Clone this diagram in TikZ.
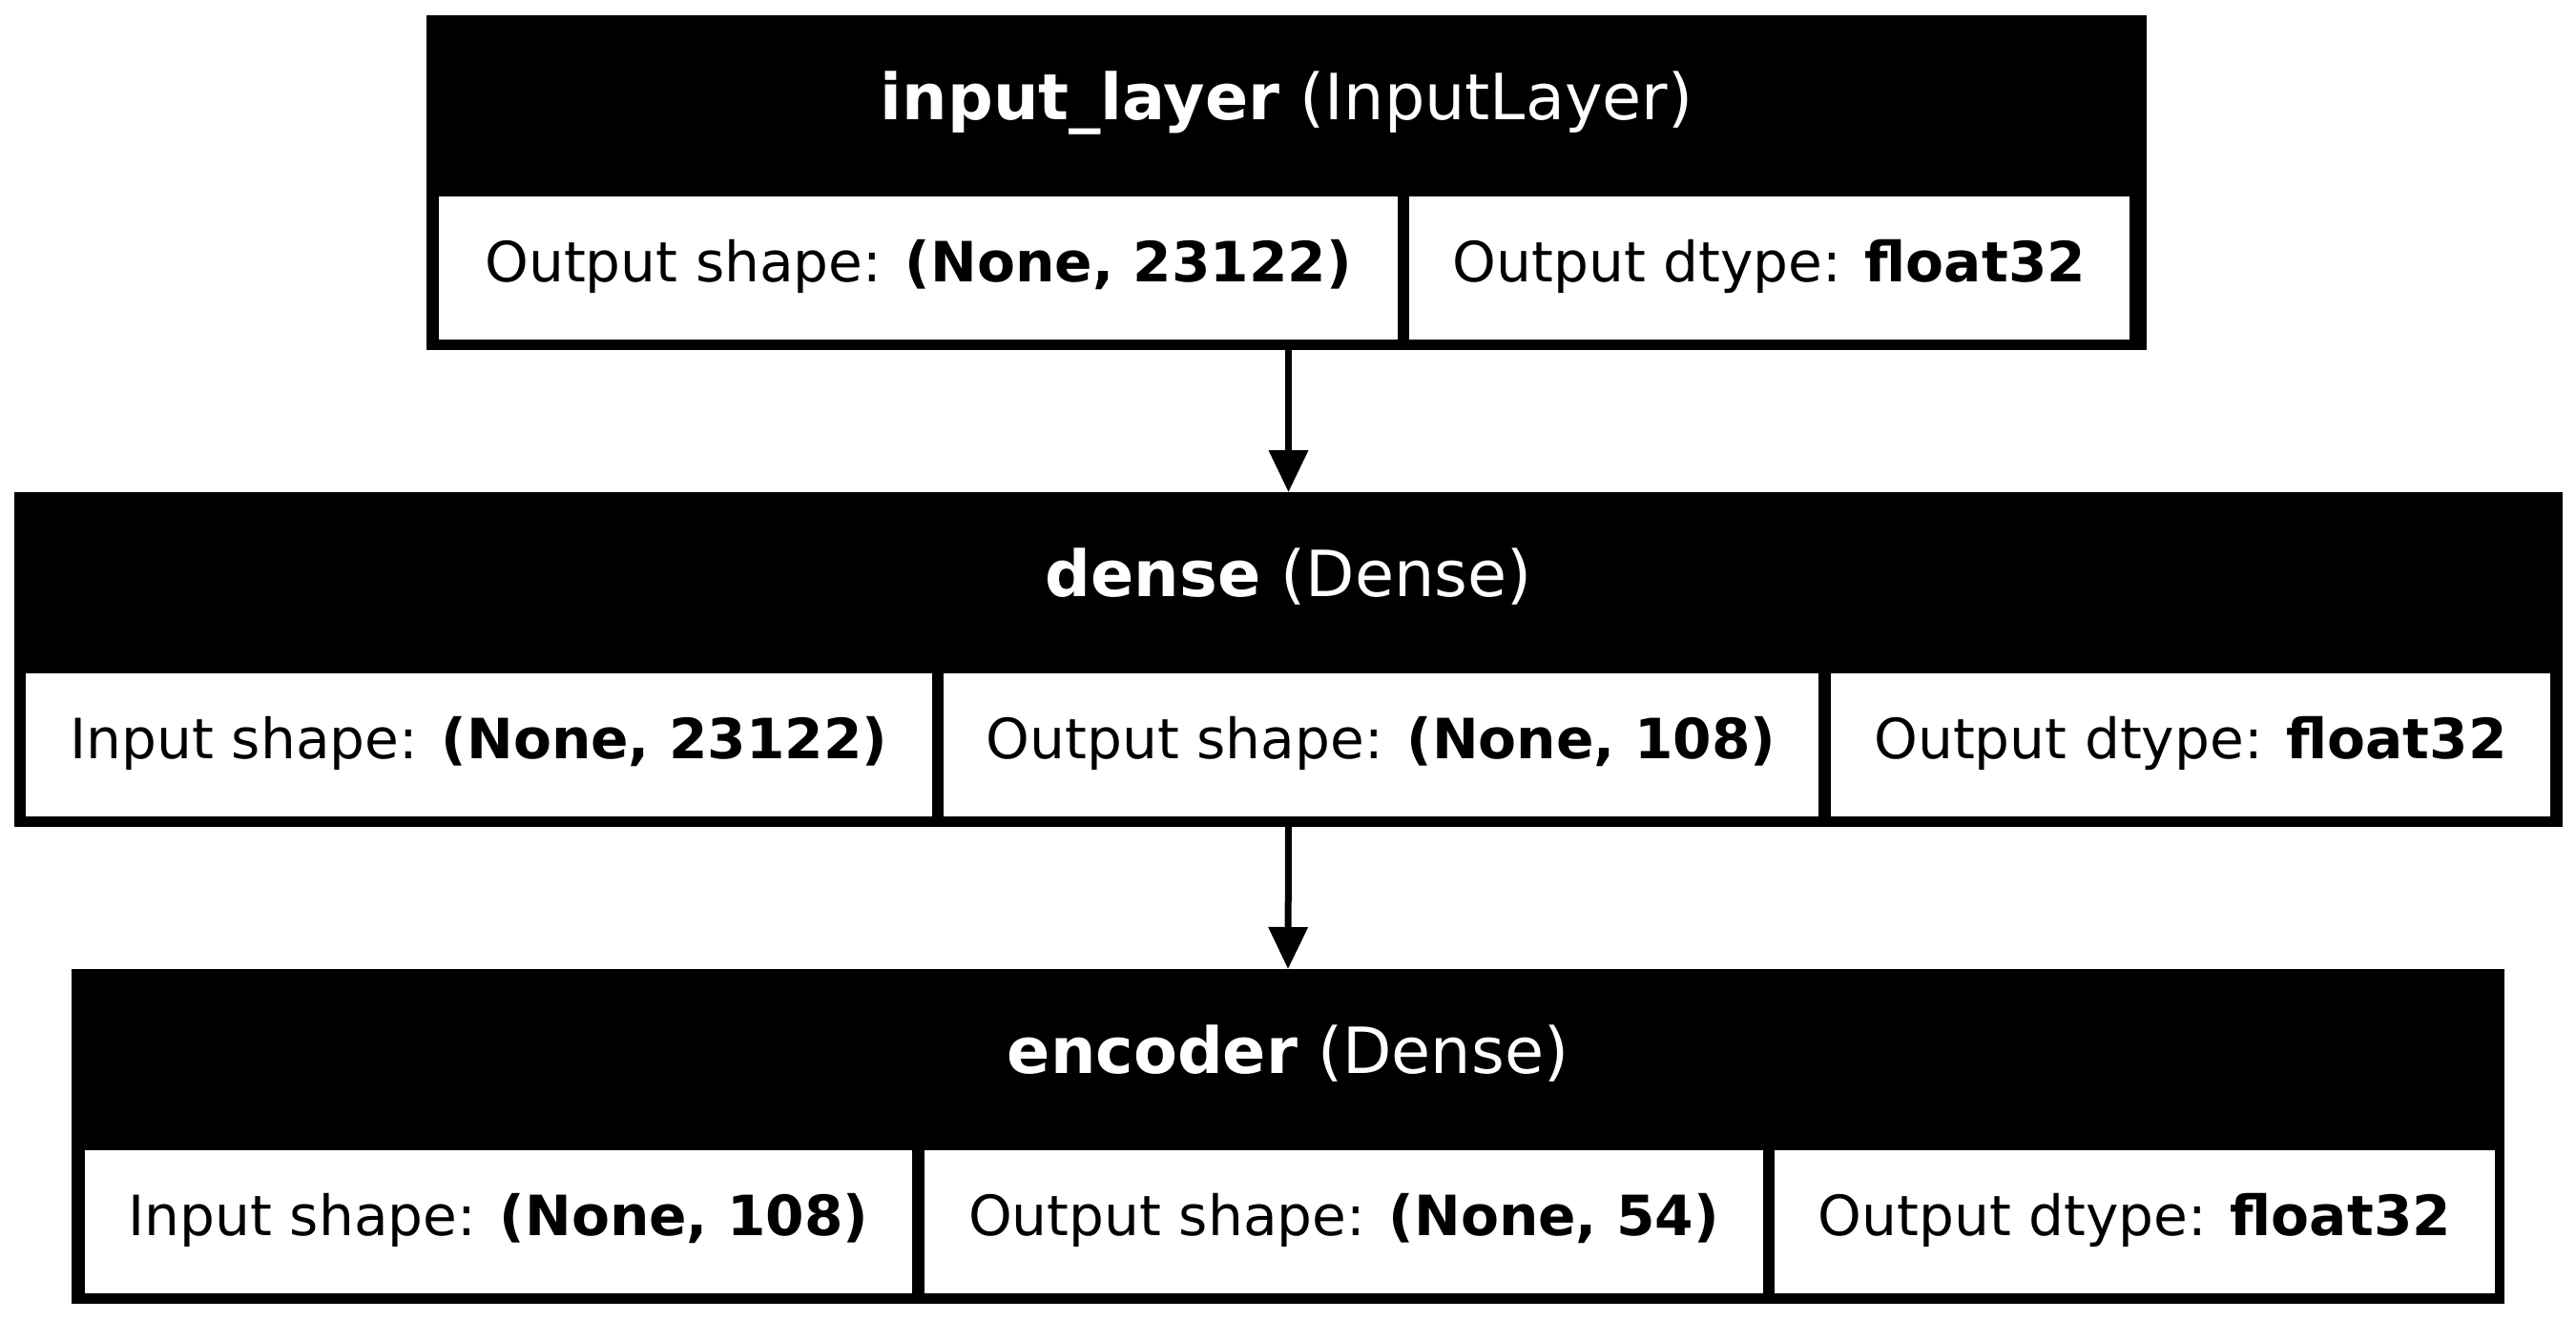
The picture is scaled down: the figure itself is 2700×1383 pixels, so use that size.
\documentclass[tikz,border=0pt]{standalone}
\usepackage{fontspec}
\setmainfont{DejaVu Sans}
\usetikzlibrary{arrows.meta}
\begin{document}
\begin{tikzpicture}[x=0.5pt, y=-0.5pt,
  layerbox/.style={fill=black, draw=none, inner sep=0pt, outer sep=0pt, anchor=north west},
  cellbox/.style={fill=white, draw=none, inner sep=0pt, outer sep=0pt, anchor=north west,
    minimum height=75pt, text height=21pt, text depth=7pt,
    font=\fontsize{29.1pt}{35pt}\selectfont},
  titletext/.style={text=white, inner sep=0pt, anchor=base,
    font=\fontsize{33.4pt}{40pt}\selectfont},
  flow/.style={line width=3.5pt, -{Triangle[length=22pt, width=20pt]}}
]
% canvas
\fill[white] (0,0) rectangle (2700,1383);
\useasboundingbox (0,0) rectangle (2700,1383);

% input_layer
\node[layerbox, minimum width=901.5pt, minimum height=175.5pt] (L1) at (447,16) {};
\node[titletext] (t1) at ([yshift=-54.5pt]L1.north) {\textbf{input\_layer} (InputLayer)};
\node[cellbox, minimum width=502.5pt] (c11) at (460,206) {Output shape: \textbf{(None, 23122)}};
\node[cellbox, minimum width=377.5pt] (c12) at (1477,206) {Output dtype: \textbf{float32}};

% dense
\node[layerbox, minimum width=1335.5pt, minimum height=175.5pt] (L2) at (15,516) {};
\node[titletext] (t2) at ([yshift=-54.5pt]L2.north) {\textbf{dense} (Dense)};
\node[cellbox, minimum width=475pt] (c21) at (27,706) {Input shape: \textbf{(None, 23122)}};
\node[cellbox, minimum width=458.5pt] (c22) at (989,706) {Output shape: \textbf{(None, 108)}};
\node[cellbox, minimum width=377pt] (c23) at (1919,706) {Output dtype: \textbf{float32}};

% encoder
\node[layerbox, minimum width=1275pt, minimum height=175.5pt] (L3) at (75,1016) {};
\node[titletext] (t3) at ([yshift=-54.5pt]L3.north) {\textbf{encoder} (Dense)};
\node[cellbox, minimum width=433.5pt] (c31) at (89,1206) {Input shape: \textbf{(None, 108)}};
\node[cellbox, minimum width=439.5pt] (c32) at (969,1206) {Output shape: \textbf{(None, 54)}};
\node[cellbox, minimum width=377.5pt] (c33) at (1860,1206) {Output dtype: \textbf{float32}};

% connections
\draw[flow] (L1.south -| L2.north) -- (L2.north);
\draw[flow] (L2.south) -- (L3.north);
\end{tikzpicture}
\end{document}
